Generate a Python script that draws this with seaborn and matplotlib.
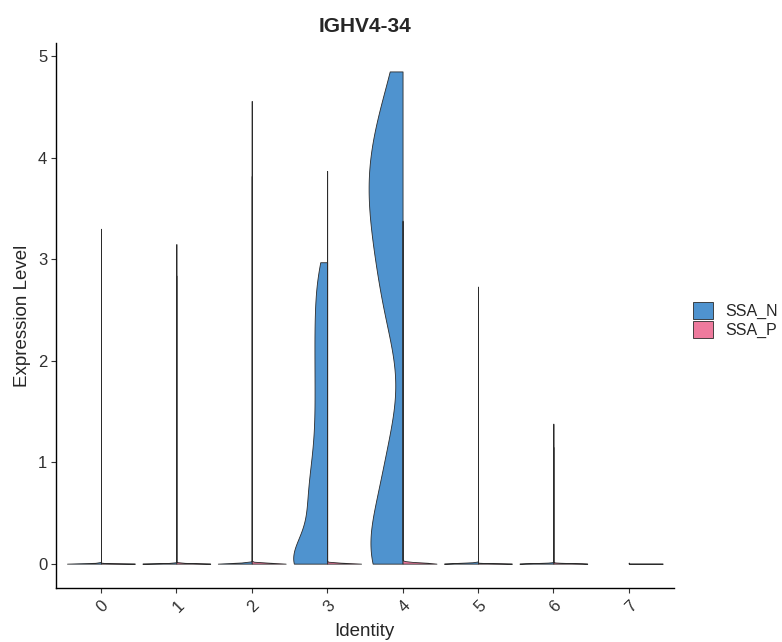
import numpy as np
import pandas as pd
import matplotlib
matplotlib.use("Agg")
import matplotlib.pyplot as plt
import seaborn as sns

# clusters on the x axis and the two split groups
clusters = ["0", "1", "2", "3", "4", "5", "6", "7"]
groups = ["SSA_N", "SSA_P"]
colors = ["#4F93CF", "#EE7A9D"]

# number of cells with zero expression, per cluster
zeros_N = [4800, 4200, 3600, 11, 6, 1800, 1000, 0]
zeros_P = [5200, 4000, 3800, 3000, 2400, 1600, 900, 400]

# non-zero expression values, per cluster
expr_N = [
    [3.30],
    [2.84],
    [4.56],
    [0.22, 0.32, 0.41, 0.48, 0.55, 0.63, 0.7, 0.78, 0.87, 0.96, 1.06, 1.17,
     1.3, 1.42, 1.55, 1.68, 1.8, 1.93, 2.05, 2.18, 2.3, 2.42, 2.55, 2.68,
     2.82, 2.97],
    [0.3, 0.42, 0.55, 0.7, 0.88, 1.1, 1.3, 2.25, 2.45, 2.6, 2.78, 2.95,
     3.08, 3.2, 3.32, 3.44, 3.55, 3.65, 3.75, 3.85, 3.95, 4.05, 4.17, 4.3,
     4.43, 4.6, 4.85],
    [2.73],
    [1.38],
    [],
]
expr_P = [
    [2.10],
    [3.15],
    [1.60, 1.62, 1.85, 2.02, 3.82],
    [3.87],
    [1.95, 3.25, 3.38],
    [1.20],
    [1.15],
    [0.01],
]

frames = []
for i, c in enumerate(clusters):
    for g, n_zero, vals in ((groups[0], zeros_N, expr_N), (groups[1], zeros_P, expr_P)):
        v = np.concatenate([np.zeros(n_zero[i]), np.array(vals[i], dtype=float)])
        if len(v):
            frames.append(pd.DataFrame({"ident": c, "split": g, "expr": v}))
df = pd.concat(frames, ignore_index=True)

sns.set_style("ticks")
plt.rcParams["font.family"] = ["Liberation Sans", "DejaVu Sans"]

fig = plt.figure(figsize=(7.82, 6.42), dpi=100)
ax = fig.add_axes([0.0712, 0.0841, 0.7907, 0.8489])

sns.violinplot(
    data=df, x="ident", y="expr", hue="split",
    order=clusters, hue_order=groups, palette=colors,
    split=True, density_norm="width", cut=0, inner=None,
    width=0.9, bw_adjust=0.5, gridsize=400, saturation=1,
    linecolor="#2b2b2b", linewidth=0.6, ax=ax,
)

ax.set_xlim(-0.6, 7.6)
ax.set_ylim(-0.24, 5.13)
ax.set_yticks([0, 1, 2, 3, 4, 5])
sns.despine(ax=ax)
for side in ("left", "bottom"):
    ax.spines[side].set_linewidth(1.0)
    ax.spines[side].set_color("black")

ax.tick_params(axis="both", length=3.6, width=0.8, color="#333333",
               labelsize=12, labelcolor="#303030", pad=2.5)
ax.tick_params(axis="x", pad=3.5)
plt.setp(ax.get_xticklabels(), rotation=45, ha="right", va="top",
         rotation_mode="anchor")

ax.set_title("IGHV4-34", fontsize=15, fontweight="bold", pad=8)
ax.set_xlabel("Identity", fontsize=13.5, labelpad=6)
ax.set_ylabel("Expression Level", fontsize=13.5, labelpad=5)

sns.move_legend(
    ax, "center left", bbox_to_anchor=(1.0302, 0.492), title="",
    frameon=False, fontsize=11.5, handlelength=1.29, handleheight=1.25,
    labelspacing=0.125, handletextpad=0.75, borderpad=0, borderaxespad=0,
)

fig.savefig("out.png", dpi=100)
